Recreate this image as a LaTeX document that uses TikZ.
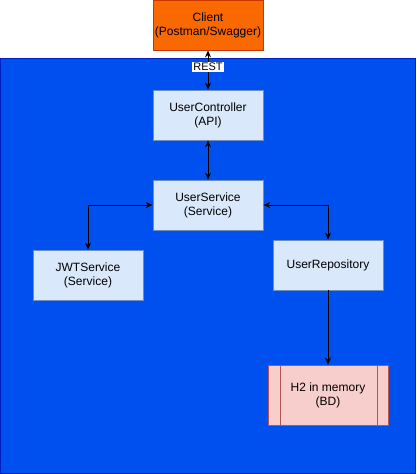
\documentclass[tikz,border=0pt]{standalone}
\usepackage{fontspec}
\setmainfont{Liberation Sans}
\usetikzlibrary{arrows.meta}
\definecolor{bgblue}{HTML}{0050EF}
\definecolor{bgblueline}{HTML}{001DBC}
\definecolor{orfill}{HTML}{FA6800}
\definecolor{orline}{HTML}{C73500}
\definecolor{boxfill}{HTML}{DAE8FC}
\definecolor{boxline}{HTML}{6C8EBF}
\definecolor{dbfill}{HTML}{F8CECC}
\definecolor{dbline}{HTML}{B85450}
\tikzset{
  comp/.style={draw=boxline, fill=boxfill, line width=0.8pt, minimum width=110pt, minimum height=50pt, inner sep=0pt, align=center, font=\fontsize{12}{14}\selectfont},
  conn/.style={line width=1pt, {Stealth[length=7pt,width=6pt]}-{Stealth[length=7pt,width=6pt]}},
  conn1/.style={line width=1pt, -{Stealth[length=7pt,width=6pt]}},
}
\begin{document}
\begin{tikzpicture}[x=1pt,y=-1pt]
\useasboundingbox (0,0) rectangle (416,474);
\fill[bgblue] (0.5,58) rectangle (415.5,473.5);
\draw[bgblueline, line width=0.8pt] (0.5,58) rectangle (415.5,473.5);
\node[comp, draw=orline, fill=orfill] (client) at (208,25) {Client\\(Postman/Swagger)};
\node[comp] (ctrl) at (208,115) {UserController\\(API)};
\node[comp] (svc) at (208,205) {UserService\\(Service)};
\node[comp] (jwt) at (88,275) {JWTService\\(Service)};
\node[comp] (repo) at (328,265) {UserRepository};
\node[comp, draw=dbline, fill=dbfill, minimum width=120pt, minimum height=60pt] (h2) at (328,395) {H2 in memory\\(BD)};
\draw[dbline, line width=0.8pt] ([xshift=13pt]h2.north west) -- ([xshift=13pt]h2.south west);
\draw[dbline, line width=0.8pt] ([xshift=-11pt]h2.north east) -- ([xshift=-11pt]h2.south east);
\draw[conn] (client) -- node[pos=0.42, fill=white, inner sep=1pt, font=\fontsize{11}{12}\selectfont] {REST} (ctrl);
\draw[conn] (ctrl) -- (svc);
\draw[conn] (svc.west) -| (jwt.north);
\draw[conn] (svc.east) -| (repo.north);
\draw[conn1] (repo) -- (h2);
\end{tikzpicture}
\end{document}
